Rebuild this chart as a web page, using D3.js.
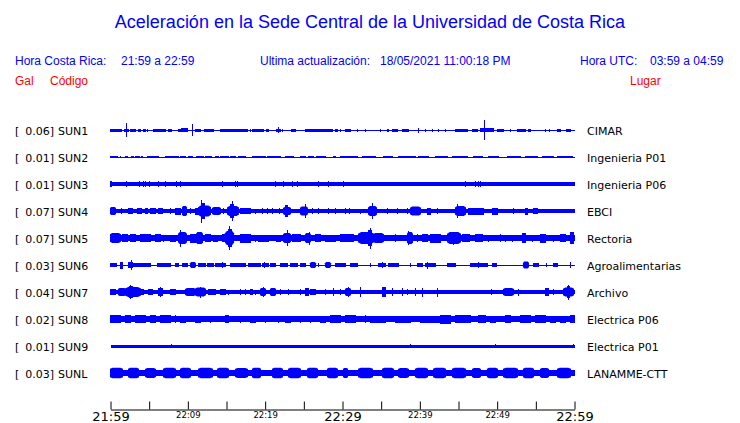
<!DOCTYPE html>
<html><head><meta charset="utf-8">
<script src="https://cdn.jsdelivr.net/npm/d3@7"></script>
<style>body{margin:0;background:#fff} svg{display:block}</style>
</head><body><svg id="c" width="740" height="423"></svg>
<script>
// ---------- data ----------
const codes = ["SUN1","SUN2","SUN3","SUN4","SUN5","SUN6","SUN7","SUN8","SUN9","SUNL"];
const gal = [0.06,0.01,0.01,0.07,0.07,0.03,0.04,0.02,0.01,0.03];
const places = ["CIMAR","Ingenieria P01","Ingenieria P06","EBCI","Rectoria","Agroalimentarias","Archivo","Electrica P06","Electrica P01","LANAMME-CTT"];
// background (noise) half-amplitude of each trace, relative units
const baseAmp = [0.5,0.5,2,2,2.7,0.5,1.8,2.7,1.5,3];
// time axis: minutes after 21:59
const tickMinutes = [0,5,10,15,20,25,30,35,40,45,50,55,60];
const tickLabels = ["21:59","","22:09","","22:19","","22:29","","22:39","","22:49","","22:59"];
// bursts: [start minute, end minute, half-amplitude]
const burstsSUN1 = [[0,0.91,1.5],[1.03,1.42,1.5],[1.81,2.33,1.5],[2.07,2.07,6.7],[2.59,3.23,1.5],[3.62,3.88,1.5],[4.27,4.53,1.5],[4.78,4.78,1.5],[5.56,7.11,1.5],[7.5,7.89,1.5],[8.79,9.05,1.5],[9.18,9.96,2],[10.6,10.6,6.2],[10.99,11.64,1.5],[12.16,13.32,1.5],[14.22,17.72,1.5],[18.1,18.1,1.5],[18.36,19.78,1.5],[20.17,20.43,1.5],[21.47,21.98,1.5],[21.72,21.72,3],[22.24,22.24,1.5],[23.41,23.92,1.5],[25.22,28.71,1.5],[29.1,29.35,1.5],[29.74,29.74,1.5],[30.39,31.03,1.5],[31.94,31.94,1.5],[32.97,32.97,1.5],[34.91,34.91,1.5],[35.82,35.95,1.5],[36.47,37.11,1.5],[37.76,38.53,1.5],[39.83,39.83,2.5],[40.73,40.73,1.5],[41.64,41.64,1.5],[42.41,42.41,1.5],[43.32,43.32,1.5],[44.61,46.16,1.5],[46.81,47.46,1.5],[47.84,49.53,2],[48.36,48.36,10],[50.04,50.82,1.5],[51.72,51.72,1.5],[52.63,53.66,1.5],[54.05,54.31,1.5],[56.25,56.25,1.5],[56.77,56.77,1.5],[57.8,58.19,1.5],[58.97,59.48,1.5]];
const burstsSUN2 = [[0,0.91,1.4],[1.29,1.29,1.4],[1.94,2.2,1.4],[2.72,2.97,1.4],[3.23,3.75,1.4],[4.01,4.14,1.4],[4.78,6.21,1.4],[7.11,8.79,1.4],[9.05,9.7,1.4],[10.09,10.6,1.4],[11.12,12.03,1.4],[12.28,13.06,1.4],[13.58,13.97,1.4],[14.22,15.26,1.4],[15.52,16.16,1.4],[16.55,17.46,1.4],[18.36,20.04,1.4],[20.3,21.98,1.4],[22.63,23.66,1.4],[24.57,25.22,1.4],[25.6,26.25,1.4],[26.64,27.8,1.4],[28.84,29.1,1.4],[29.74,31.94,1.4],[32.59,34.27,1.4],[35.3,36.47,1.4],[37.24,39.44,1.4],[39.83,41.12,1.4],[42.03,43.58,1.4],[44.22,46.16,1.4],[46.94,48.1,1.4],[48.88,50.17,1.4],[51.34,53.02,1.4],[53.66,55.22,1.4],[55.86,57.28,1.4],[57.8,59.74,1.4]];
const burstsSUN3 = [[0,0.13,3],[2.07,2.07,3],[3.75,3.75,3],[4.27,4.27,3],[4.53,4.53,3],[5.04,5.04,3],[6.21,6.21,3],[7.11,7.11,3],[8.53,8.53,3],[9.05,9.05,3],[14.48,14.48,3],[16.16,16.16,3],[16.42,16.42,3],[21.34,21.34,3],[22.37,22.37,3],[23.53,23.53,3],[24.18,24.18,3],[26.9,26.9,3],[28.19,28.19,3],[30.13,30.13,3],[45.91,45.91,3],[47.2,47.2,3],[47.59,47.59,3],[47.84,47.84,3]];
const burstsSUN4 = [[0,0.65,4],[1.42,1.42,3],[2.33,2.84,3],[3.49,4.01,3],[4.53,4.78,3],[5.17,5.82,3],[6.21,6.72,3],[7.76,7.76,3],[8.41,9.05,3.5],[9.31,9.83,5],[10.34,10.34,3],[10.99,11.64,3.5],[11.38,12.93,5.5],[11.9,12.16,8],[11.77,11.77,11.5],[13.19,14.22,4],[14.61,14.61,3],[15.13,16.55,5],[15.52,15.91,7],[15.78,15.78,10],[16.81,18.1,3],[18.75,18.75,2.5],[19.66,19.66,3],[20.3,20.3,3],[20.95,20.95,3],[21.85,21.85,3],[22.37,23.28,4],[22.63,22.89,6],[24.57,25.47,4.5],[25.22,25.22,7],[26.12,26.12,3],[26.9,26.9,3],[28.19,28.19,3],[29.1,29.1,3],[30.39,30.39,3],[30.91,30.91,3],[32.33,32.33,2.5],[33.36,34.4,5],[33.88,33.88,8],[35.82,35.82,3],[37.11,37.11,3],[38.4,38.4,3],[38.79,40.09,4.5],[40.99,41.38,3.5],[42.28,42.28,3],[44.61,45.91,5],[44.87,44.87,6.7],[46.29,48.23,3.5],[49.4,50.04,3.5],[52.11,52.11,3],[53.66,53.92,3.5],[54.7,55.22,3]];
const burstsSUN5 = [[0,1.29,5],[1.55,2.2,4],[2.59,3.23,4],[3.88,5.17,4],[5.82,6.47,4],[6.85,6.85,3.5],[7.76,8.41,3.5],[8.79,9.83,6],[9.05,9.05,8.5],[10.34,10.99,4.5],[11.12,11.9,6],[12.28,12.93,4],[13.32,13.84,3.5],[14.48,14.87,4],[14.87,15.91,7],[15.26,15.65,9],[15.39,15.39,12],[16.81,18.1,4.5],[18.75,18.75,3.5],[19.14,20.43,3.5],[21.47,21.98,3.5],[22.37,23.28,5],[22.89,22.89,8],[23.53,24.57,4],[25.22,25.86,5],[25.73,25.73,6.5],[26.51,27.16,4],[27.8,29.1,3.5],[29.74,31.42,4],[32.07,34.01,6],[33.36,33.75,8],[33.62,33.62,10.5],[34.01,35.3,5],[36.85,36.85,4],[38.4,39.05,6],[38.53,38.53,7],[39.7,39.7,4],[40.34,40.99,4],[41.38,42.67,4.5],[43.58,45.26,6],[44.35,44.35,6.5],[45.52,46.42,4],[47.2,48.1,4],[48.88,48.88,3.5],[50.43,50.43,4],[51.08,51.08,3.5],[51.98,51.98,3.5],[53.27,53.66,5],[54.57,54.57,3.5],[55.6,56.25,4.5],[57.28,57.28,3.5],[58.19,58.84,4],[59.48,59.87,6]];
const burstsSUN6 = [[0,0.78,2],[1.29,1.55,3.5],[2.33,2.84,3],[2.72,2.72,5.3],[2.97,5.17,2],[6.08,7.76,2],[8.41,8.79,2],[9.31,9.96,2],[10.34,10.99,3],[11.38,12.28,2],[12.54,13.32,2],[13.58,14.87,2],[14.48,14.48,3],[15.52,17.46,2],[17.84,19.4,2],[19.66,20.43,2],[19.91,19.91,3],[20.69,21.34,2],[21.98,22.89,2],[23.28,24.18,2],[24.57,25.22,2],[25.86,26.51,3],[26.9,26.9,2],[27.8,28.45,3],[29.1,29.74,2],[29.74,30.39,2],[31.03,31.94,2],[33.62,33.62,2],[34.66,35.56,2],[35.17,35.17,3],[35.95,37.24,2],[38.79,38.79,2],[39.7,40.34,2],[40.73,42.03,2],[40.99,40.99,3.5],[43.58,44.61,2],[46.55,48.75,2],[47.59,47.59,3],[49.4,49.91,2],[53.4,54.05,3.5],[54.7,55.35,2],[56.38,56.38,2],[57.28,57.8,2],[59.48,59.48,3]];
const burstsSUN7 = [[0,0.65,3],[1.03,1.94,4],[1.94,3.88,5],[2.33,2.97,6],[2.59,2.59,7],[3.88,4.27,3],[4.91,5.43,3],[6.21,6.72,4],[6.47,6.47,5],[7.76,8.41,3],[9.7,10.99,4],[10.99,12.28,4.5],[11.64,11.64,5.5],[12.67,13.58,3],[14.22,14.87,3],[15.26,15.26,2.5],[16.81,16.81,3],[17.46,17.46,3],[18.1,18.36,3],[18.75,18.75,2.5],[19.4,20.04,4],[19.78,19.78,5],[20.69,21.34,4],[21.98,21.98,3],[23.02,23.02,3],[24.57,24.57,3],[25.22,25.6,4],[25.86,26.51,3],[27.8,27.8,3],[28.84,28.84,4],[29.74,29.74,3],[30.39,31.03,4],[30.78,30.78,5],[32.33,32.33,5],[35.17,35.56,5],[36.47,36.47,4],[37.76,37.76,4],[38.4,38.4,3],[39.44,39.44,4],[40.34,40.34,4.5],[42.28,42.28,4.5],[49.27,49.27,3],[50.82,52.11,4],[52.76,52.76,3.5],[56.25,56.64,4],[57.28,57.28,3],[58.58,59.87,4.5],[59.09,59.35,6],[59.22,59.22,7.5]];
const burstsSUN8 = [[0,1.29,4],[1.94,2.59,4],[3.23,4.53,4],[5.17,5.82,4],[6.47,7.76,4],[8.41,8.41,4],[9.05,9.7,3.5],[10.99,11.64,3.5],[12.93,12.93,3.5],[14.87,15.26,4],[16.81,16.81,3.5],[18.1,18.75,3.5],[20.04,20.04,3.5],[21.72,21.72,3.5],[22.63,23.28,3.5],[24.57,24.57,3.5],[25.86,25.86,3.5],[27.16,27.8,3.5],[28.45,29.74,4],[30.39,31.68,4],[32.97,32.97,4],[33.62,35.56,3.5],[36.85,38.79,3.5],[40.09,43.97,3.5],[42.67,43.97,4.5],[44.61,46.55,4],[47.59,48.49,4],[49.14,49.78,3.5],[51.08,51.72,4],[53.02,54.31,4],[54.96,56.25,4],[56.9,57.54,3.5],[58.19,58.84,3.5],[59.48,60,4]];
const burstsSUN9 = [[7.89,7.89,2.2],[38.79,38.79,2.2],[49.78,49.78,2.2],[59.87,59.87,2.2]];
const burstsSUNL = [[0,1.55,5.3],[2.33,3.62,5.3],[4.53,5.82,5],[6.85,8.41,5.3],[9.05,10.34,5.3],[11.38,13.19,5.3],[13.84,15.26,5.3],[16.16,17.72,5],[18.36,19.4,5.3],[20.95,22.24,5.3],[23.02,24.57,5.3],[25.47,26.77,5.3],[28.06,29.35,5.3],[30.13,30.65,5],[32.07,33.88,5.3],[35.17,36.59,5.3],[37.24,38.53,5],[39.44,40.99,5.3],[41.77,43.32,5.3],[44.22,45.91,5.3],[46.81,47.84,5],[48.75,50.04,5.3],[50.82,52.63,5.3],[53.4,54.7,5.3],[55.6,56.64,5],[57.8,59.48,5.3]];
const bursts = [burstsSUN1,burstsSUN2,burstsSUN3,burstsSUN4,burstsSUN5,burstsSUN6,burstsSUN7,burstsSUN8,burstsSUN9,burstsSUNL];

// ---------- drawing ----------
const svg = d3.select("#c");
const blue = "#0000ff";
const x = d3.scaleLinear().domain([0,60]).range([110.5,574.5]);
const row = d3.scaleLinear().domain([0,9]).range([130,373]);
const amp = d3.scaleLinear().domain([0,1]).range([0,1]);

svg.append("text").attr("x",370).attr("y",28).attr("text-anchor","middle")
  .attr("font-family","Liberation Sans, Arial, sans-serif").attr("font-size",18).attr("fill",blue)
  .text("Aceleración en la Sede Central de la Universidad de Costa Rica");

const hdr = [
  [15,65,"Hora Costa Rica:",blue],[121,65,"21:59 a 22:59",blue],
  [260,65,"Ultima actualización:",blue],[380,65,"18/05/2021 11:00:18 PM",blue],
  [580,65,"Hora UTC:",blue],[650,65,"03:59 a 04:59",blue],
  [15,85,"Gal","#ff0000"],[50,85,"Código","#ff0000"],[630,85,"Lugar","#ff0000"]
];
svg.append("g").selectAll("text").data(hdr).join("text")
  .attr("x",d=>d[0]).attr("y",d=>d[1]).attr("fill",d=>d[3])
  .attr("font-family","Liberation Sans, Arial, sans-serif").attr("font-size",12)
  .text(d=>d[2]);

const labels = svg.append("g").attr("font-family","DejaVu Sans, sans-serif").attr("font-size",11).attr("fill","#000");
codes.forEach((c,i)=>{
  const cy = row(i);
  labels.append("text").attr("x",15).attr("y",cy+4.5).text("[");
  labels.append("text").attr("x",54).attr("y",cy+4.5).attr("text-anchor","end").text(gal[i].toFixed(2)+"]");
  labels.append("text").attr("x",58).attr("y",cy+4.5).text(c);
  labels.append("text").attr("x",587).attr("y",cy+4.5).text(places[i]);
});

// tapered envelope for wide, strong bursts; plain blocks otherwise
const env = d3.area().x(p=>p[0]).y0(p=>p[1]).y1(p=>p[2]);
const traces = svg.append("g").attr("fill",blue);
codes.forEach((c,i)=>{
  const cy = row(i);
  const b = baseAmp[i];
  const g = traces.append("g");
  g.append("rect").attr("x",x(0)).attr("width",x(60)-x(0)).attr("shape-rendering","crispEdges")
    .attr("y",cy-amp(b)).attr("height",Math.max(1,2*amp(b)));
  bursts[i].forEach(d=>{
    const x0 = x(d[0])-0.5, x1 = x(d[1])+0.5, w = x1-x0;
    const a = amp(d[2]);
    if (w < 5 || d[2]-b < 1.8) {
      g.append("rect").attr("shape-rendering","crispEdges").attr("x",x0).attr("width",w)
        .attr("y",cy-a).attr("height",2*a);
    } else {
      const ae = amp(b + (d[2]-b)*0.5);
      const pts = [[x0,cy-ae,cy+ae],[x0+w*0.2,cy-a,cy+a],[x1-w*0.2,cy-a,cy+a],[x1,cy-ae,cy+ae]];
      g.append("path").attr("d",env(pts));
    }
  });
});

const axis = d3.axisBottom(x).tickValues(tickMinutes).tickSizeInner(-8).tickSizeOuter(0)
  .tickPadding(2).tickFormat((d,i)=>tickLabels[i]);
const ag = svg.append("g").attr("transform","translate(0,409.5)").call(axis);
ag.selectAll("path,line").attr("stroke","#000");
ag.selectAll("text").attr("fill","#000").attr("font-family","DejaVu Sans, sans-serif")
  .attr("font-size",(d,i)=> i%6===0 ? 13 : 8.5);
</script></body></html>
